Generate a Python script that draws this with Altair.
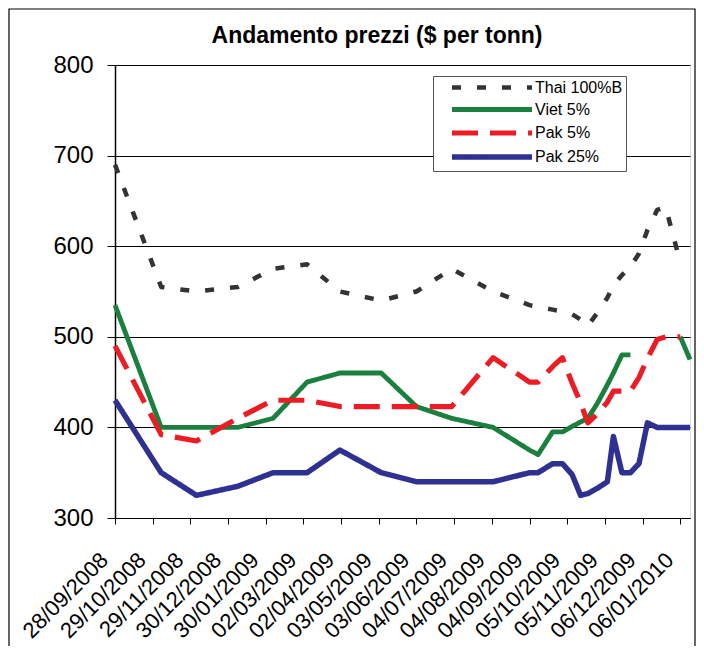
import altair as alt
import pandas as pd

# ---- data ----
dates = ["2008/09/28", "2008/11/05", "2008/12/04", "2009/01/07", "2009/02/05",
         "2009/03/05", "2009/04/01", "2009/05/05", "2009/06/03", "2009/07/02",
         "2009/08/05", "2009/09/04", "2009/09/11", "2009/09/23", "2009/10/01",
         "2009/10/09", "2009/10/16", "2009/10/22", "2009/10/30", "2009/11/07",
         "2009/11/12", "2009/11/19", "2009/11/26", "2009/12/03", "2009/12/10",
         "2009/12/18", "2009/12/25", "2010/01/06", "2010/01/14"]

thai = [690, 555, 550, 555, 575, 580, 550, 540, 550, 575, 550, 535, 533, 530, 528,
        525, 519, 512, 527, 543, 557, 568, 577, 592, 618, 640, 643, 582, None]
viet = [535, 400, 400, 400, 410, 450, 460, 460, 423, 410, 400, 375, 370, 395, 395,
        401, 406, 410, 427, 447, 460, 480, 480, None, None, None, None, 500, 475]
pak5 = [490, 392, 385, 410, 430, 430, 423, 423, 423, 423, 477, 450, 450, 467, 477,
        449, 427, 405, 415, 428, 440, 440, 440, 455, 476, 497, 500, 500, None]
pak25 = [430, 350, 325, 335, 350, 350, 375, 350, 340, 340, 340, 350, 350, 360, 360,
         348, 325, 327, 333, 340, 390, 350, 350, 360, 405, 400, 400, 400, 400]

series_names = ["Thai 100%B", "Viet 5%", "Pak 5%", "Pak 25%"]
series_values = [thai, viet, pak5, pak25]

tick_dates = [(2008, 9, 28), (2008, 10, 29), (2008, 11, 29), (2008, 12, 30),
              (2009, 1, 30), (2009, 3, 2), (2009, 4, 2), (2009, 5, 3),
              (2009, 6, 3), (2009, 7, 4), (2009, 8, 4), (2009, 9, 4),
              (2009, 10, 5), (2009, 11, 5), (2009, 12, 6), (2010, 1, 6)]
y_ticks = [300, 400, 500, 600, 700, 800]
title_text = "Andamento prezzi ($ per tonn)"

# ---- styles ----
colors = ["#333333", "#1b7f3d", "#ed1c24", "#2e3192"]
dashes = [[9, 16], [1, 0], [26, 12], [1, 0]]
widths = [4.5, 5.5, 4.5, 6.5]
FONT = "Liberation Sans"

rows = []
for name, vals in zip(series_names, series_values):
    seg = 0
    prev_none = False
    started = False
    for d, v in zip(dates, vals):
        if v is None:
            prev_none = True
            continue
        if prev_none and started:
            seg += 1
        prev_none = False
        started = True
        rows.append({"date": d, "value": v, "series": name, "seg": f"{name}-{seg}"})
df = pd.DataFrame(rows)

leg = alt.Legend(
    title=None, orient="none", legendX=318, legendY=11,
    symbolType="M-6.667,0H6.667", symbolSize=144,
    labelFont=FONT, labelFontSize=16, labelColor="black",
    fillColor="white", strokeColor="#555555", padding=3, rowPadding=2,
    labelOffset=34, symbolOffset=47,
)

x_enc = alt.X(
    "date:T",
    scale=alt.Scale(domain=[alt.DateTime(year=2008, month=9, date=28),
                            alt.DateTime(year=2010, month=1, date=14)], nice=False),
    axis=alt.Axis(
        values=[alt.DateTime(year=y, month=m, date=d) for (y, m, d) in tick_dates],
        format="%d/%m/%Y", labelAngle=-45, labelAlign="right", labelBaseline="top",
        labelOffset=-18, labelPadding=25, labelFont=FONT, labelFontSize=22,
        labelColor="black", tickSize=6, tickColor="black", domainColor="black",
        grid=False, title=None, labelOverlap=False, labelFlush=False,
    ),
)
y_enc = alt.Y(
    "value:Q",
    scale=alt.Scale(domain=[300, 800], nice=False, zero=False),
    axis=alt.Axis(
        values=y_ticks, grid=True, gridColor="black", gridWidth=1,
        labelFont=FONT, labelFontSize=24, labelColor="black", labelPadding=14,
        tickSize=8, tickColor="black", domainColor="black", domainWidth=1.5,
        title=None, labelFlush=False,
    ),
)

lines = alt.Chart(df).mark_line(strokeJoin="round").encode(
    x=x_enc,
    y=y_enc,
    color=alt.Color("series:N", scale=alt.Scale(domain=series_names, range=colors), legend=leg),
    strokeDash=alt.StrokeDash("series:N", scale=alt.Scale(domain=series_names, range=dashes), legend=leg),
    strokeWidth=alt.StrokeWidth("series:N", scale=alt.Scale(domain=series_names, range=widths), legend=leg),
    detail=alt.Detail("seg:N"),
)

one = pd.DataFrame({"k": [0]})

frame = alt.Chart(one).mark_rect(
    fill="transparent", stroke="black", strokeWidth=1.2
).encode(
    x=alt.value(-106), x2=alt.value(580), y=alt.value(-56), y2=alt.value(600)
)

title = alt.Chart(one).mark_text(
    text=title_text, font=FONT, fontSize=23, fontWeight="bold", color="black",
    align="center", baseline="alphabetic"
).encode(x=alt.value(262), y=alt.value(-22))

chart = alt.layer(frame, title, lines).properties(
    width=575, height=453,
    autosize="none",
    padding={"left": 107, "top": 57, "right": 6, "bottom": 128},
).configure_view(stroke="black", strokeWidth=1.5).configure(background="white")

chart.save("out.html", embed_options={"renderer": "svg", "actions": False})
